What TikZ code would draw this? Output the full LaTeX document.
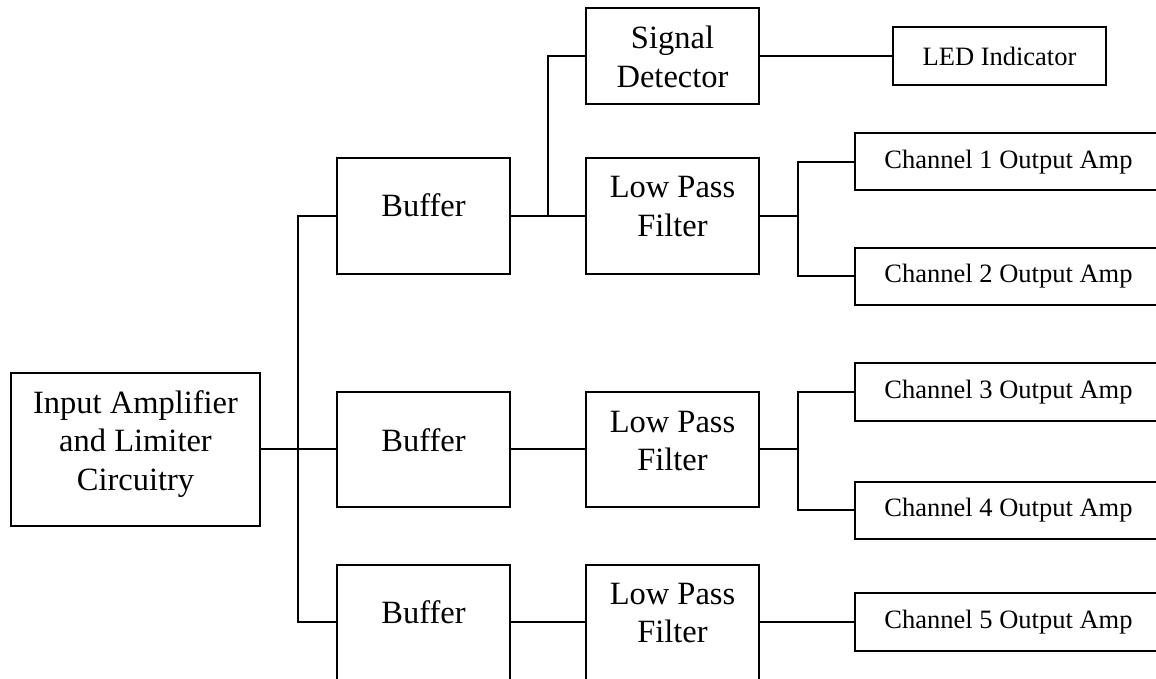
\documentclass[tikz,border=0pt]{standalone}
\usepackage{fontspec}
\setmainfont{Liberation Serif}
\begin{document}
\begin{tikzpicture}[x=1pt,y=-1pt,
  box/.style={draw=black,line width=2pt,fill=none,inner sep=0pt,rectangle},
  big/.style={font=\fontsize{32.5}{38.5}\selectfont,align=center,anchor=base,inner sep=0pt},
  small/.style={font=\fontsize{26.5}{30}\selectfont},
  wire/.style={draw=black,line width=2pt}]
\useasboundingbox (0,0) rectangle (1156,679);
% main boxes
\node[box,minimum width=249pt,minimum height=153pt] (inp) at (135.5,449) {};
\node[box,minimum width=173pt,minimum height=115pt] (buf1) at (423.5,216) {};
\node[box,minimum width=173pt,minimum height=115pt] (buf2) at (423.5,449) {};
\node[box,minimum width=173pt,minimum height=115pt] (buf3) at (423.5,622) {};
\node[box,minimum width=173pt,minimum height=96pt] (sig) at (672.5,56) {};
\node[box,minimum width=173pt,minimum height=115pt] (lpf1) at (672.5,216) {};
\node[box,minimum width=173pt,minimum height=115pt] (lpf2) at (672.5,449) {};
\node[box,minimum width=173pt,minimum height=115pt] (lpf3) at (672.5,622) {};
\node[box,small,minimum width=213pt,minimum height=58pt] (led) at (999.5,56) {LED Indicator};
\node[box,small,minimum width=307pt,minimum height=57pt] (ch1) at (1008.5,162) {Channel 1 Output Amp};
\node[box,small,minimum width=307pt,minimum height=57pt] (ch2) at (1008.5,276) {Channel 2 Output Amp};
\node[box,small,minimum width=307pt,minimum height=58pt] (ch3) at (1008.5,392) {Channel 3 Output Amp};
\node[box,small,minimum width=307pt,minimum height=57pt] (ch4) at (1008.5,510) {Channel 4 Output Amp};
\node[box,small,minimum width=307pt,minimum height=58pt] (ch5) at (1008.5,622) {Channel 5 Output Amp};
% texts (anchor = baseline of the last line)
\node[big] (inpt) at (135.5,490) {Input Amplifier\\and Limiter\\Circuitry};
\node[big] (buf1t) at (423.5,217) {Buffer};
\node[big] (buf2t) at (423.5,451) {Buffer};
\node[big] (buf3t) at (423.5,623) {Buffer};
\node[big] (sigt) at (672.5,87.5) {Signal\\Detector};
\node[big] (lpf1t) at (672.5,236.5) {Low Pass\\Filter};
\node[big] (lpf2t) at (672.5,470.5) {Low Pass\\Filter};
\node[big] (lpf3t) at (672.5,642.5) {Low Pass\\Filter};
% junctions
\coordinate (tr) at (298,449);
\coordinate (j1) at (548,216);
\coordinate (j2) at (798,216);
\coordinate (j3) at (798,449);
% connectors
\draw[wire] (inp.east) -- (buf2.west);
\draw[wire] (buf1.west) -| (tr) |- (buf3.west);
\draw[wire] (buf1.east) -- (lpf1.west);
\draw[wire] (j1) |- (sig.west);
\draw[wire] (sig.east) -- (led.west);
\draw[wire] (buf2.east) -- (lpf2.west);
\draw[wire] (buf3.east) -- (lpf3.west);
\draw[wire] (lpf1.east) -- (j2);
\draw[wire] (ch1.west) -| (j2) |- (ch2.west);
\draw[wire] (lpf2.east) -- (j3);
\draw[wire] (ch3.west) -| (j3) |- (ch4.west);
\draw[wire] (lpf3.east) -- (ch5.west);
\end{tikzpicture}
\end{document}
